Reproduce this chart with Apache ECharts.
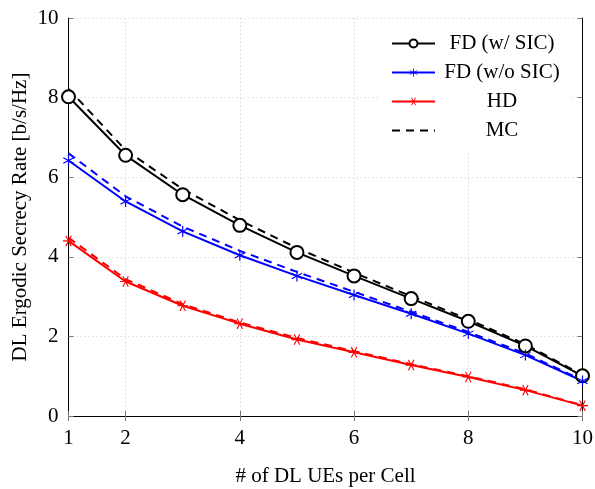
<!DOCTYPE html>
<html><head><meta charset="utf-8">
<script src="https://cdn.jsdelivr.net/npm/echarts@6/dist/echarts.min.js"></script>
<style>html,body{margin:0;padding:0;background:#fff}#c{width:595px;height:489px}</style>
</head><body><div id="c"></div>
<script>
const users = [1,2,3,4,5,6,7,8,9,10];
const xTicks = [1,2,4,6,8,10];
const fdSic = [8.02,6.55,5.56,4.79,4.11,3.52,2.95,2.38,1.76,1.01];
const fdSicMC = [8.22,6.68,5.70,4.92,4.22,3.60,3.01,2.43,1.80,1.03];
const fdNoSic = [6.42,5.39,4.64,4.04,3.52,3.04,2.57,2.07,1.53,0.88];
const fdNoSicMC = [6.60,5.52,4.76,4.15,3.62,3.12,2.62,2.11,1.57,0.90];
const hd = [4.40,3.38,2.77,2.32,1.92,1.60,1.28,0.98,0.65,0.26];
const hdMC = [4.48,3.44,2.81,2.35,1.96,1.63,1.30,1.00,0.67,0.27];
const names = ['FD (w/ SIC)','FD (w/o SIC)','HD','MC'];

const pair = arr => users.map((u,i)=>[u,arr[i]]);
const ast = 'path://M9 0L11 0L11 20L9 20Z M18.16 4.13L19.16 5.87L1.84 15.87L0.84 14.13Z M19.16 14.13L18.16 15.87L0.84 5.87L1.84 4.13Z';
const font = 'Liberation Serif';
const chart = echarts.init(document.getElementById('c'), null, {renderer:'canvas'});
const dash = [8,6];
const tickStyle = {show:true, inside:true, length:5, lineStyle:{color:'#777', width:1}};
chart.setOption({
  animation:false,
  grid:{left:68.5, right:12.5, top:18, bottom:73, outerBoundsMode:'none', containLabel:false},
  legend:{
    data:[names[0], names[1], names[2], {name:'MC', itemStyle:{opacity:0}}],
    orient:'vertical', left:379, top:19,
    padding:[14,10,10,12], backgroundColor:'#fff',
    itemWidth:43, itemHeight:10, itemGap:8,
    formatter: n => '{a|'+n+'}',
    textStyle:{fontFamily:font, fontSize:21, color:'#000', rich:{a:{width:124, align:'center', fontFamily:font, fontSize:21}}},
    z:10
  },
  xAxis:[{
    type:'value', min:1, max:10, position:'bottom',
    name:'# of DL UEs per Cell', nameLocation:'middle', nameGap:50, nameMoveOverlap:false,
    nameTextStyle:{fontFamily:font, fontSize:21, color:'#000'},
    axisLine:{lineStyle:{color:'#000', width:1}},
    axisTick:Object.assign({customValues:xTicks}, tickStyle),
    axisLabel:{customValues:xTicks, fontFamily:font, fontSize:21, color:'#000', margin:12},
    splitLine:{show:true, lineStyle:{color:'#ccc', type:[1,3], width:1}}
  },{
    type:'value', min:1, max:10, position:'top',
    axisLine:{show:true, lineStyle:{color:'#000', width:1}},
    axisTick:Object.assign({customValues:xTicks}, tickStyle),
    axisLabel:{show:false}, splitLine:{show:false}
  }],
  yAxis:[{
    type:'value', min:0, max:10, interval:2, position:'left',
    name:'DL Ergodic Secrecy Rate [b/s/Hz]', nameLocation:'middle', nameGap:38, nameMoveOverlap:false,
    nameTextStyle:{fontFamily:font, fontSize:21, color:'#000'},
    axisLine:{show:true, lineStyle:{color:'#000', width:1}},
    axisTick:tickStyle,
    axisLabel:{fontFamily:font, fontSize:21, color:'#000', margin:10},
    splitLine:{show:true, lineStyle:{color:'#ccc', type:[1,3], width:1}}
  },{
    type:'value', min:0, max:10, interval:2, position:'right',
    axisLine:{show:true, lineStyle:{color:'#000', width:1}},
    axisTick:tickStyle, axisLabel:{show:false}, splitLine:{show:false}
  }],
  series:[
    {name:'MC', type:'line', data:pair(fdSicMC), symbol:'none', lineStyle:{color:'#000', width:2, type:dash}, itemStyle:{color:'#000'}, z:3},
    {name:'MC_b', type:'line', data:pair(fdNoSicMC), symbol:'none', lineStyle:{color:'#0000ff', width:2, type:dash}, z:3},
    {name:'MC_r', type:'line', data:pair(hdMC), symbol:'none', lineStyle:{color:'#ff0000', width:2, type:dash}, z:3},
    {name:'FD (w/ SIC)', type:'line', data:pair(fdSic), symbol:'emptyCircle', symbolSize:13,
      lineStyle:{color:'#000', width:2}, itemStyle:{color:'#000', borderWidth:2, borderColor:'#000'}, z:4},
    {name:'FD (w/o SIC)', type:'line', data:pair(fdNoSic), symbol:ast, symbolSize:11,
      lineStyle:{color:'#0000ff', width:2}, itemStyle:{color:'#0000ff'}, z:4},
    {name:'HD', type:'line', data:pair(hd), symbol:ast, symbolSize:11, symbolRotate:90,
      lineStyle:{color:'#ff0000', width:2}, itemStyle:{color:'#ff0000'}, z:4}
  ]
});
</script></body></html>
